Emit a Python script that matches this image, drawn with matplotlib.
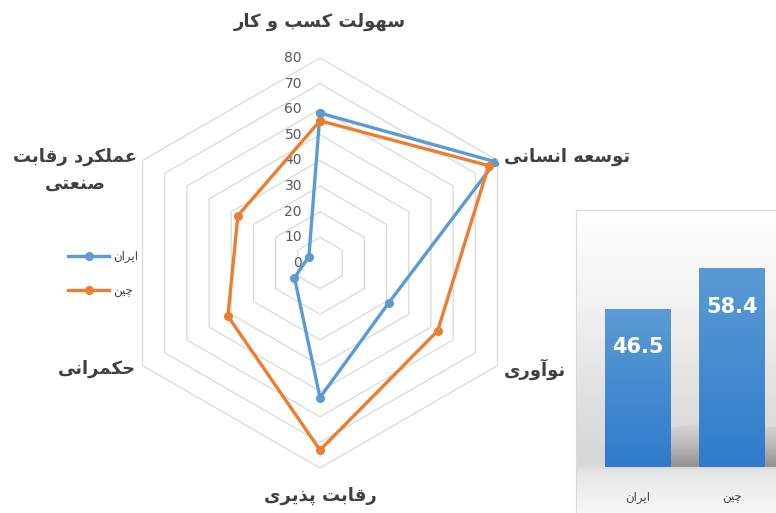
import numpy as np
import matplotlib
matplotlib.use("Agg")
import matplotlib.pyplot as plt
from matplotlib.colors import LinearSegmentedColormap
from matplotlib.lines import Line2D
from matplotlib.patches import Polygon

# ---- data -------------------------------------------------------------
axis_labels = ["سهولت کسب و کار", "توسعه انسانی", "نوآوری",
               "رقابت پذیری", "حکمرانی", "عملکرد رقابت\nصنعتی"]
series_names = ["ایران", "چین"]
iran_values = [58.5, 79, 31, 52.5, 11.5, 5]
china_values = [55.5, 76, 53, 73, 41.5, 37]
radial_ticks = [0, 10, 20, 30, 40, 50, 60, 70, 80]

bar_labels = ["ایران", "چین"]
bar_values = [46.5, 58.4]

BLUE = "#5B9BD5"
ORANGE = "#ED7D31"
GRID = "#D9D9D9"
TEXT = "#404040"

# ---- minimal persian shaping (matplotlib has no text shaping) -----------
FORMS = {
    "ا": ("\uFE8D", "\uFE8E", None, None),
    "آ": ("\uFE81", "\uFE82", None, None),
    "ب": ("\uFE8F", "\uFE90", "\uFE91", "\uFE92"),
    "پ": ("\uFB56", "\uFB57", "\uFB58", "\uFB59"),
    "ت": ("\uFE95", "\uFE96", "\uFE97", "\uFE98"),
    "ح": ("\uFEA1", "\uFEA2", "\uFEA3", "\uFEA4"),
    "چ": ("\uFB7A", "\uFB7B", "\uFB7C", "\uFB7D"),
    "د": ("\uFEA9", "\uFEAA", None, None),
    "ذ": ("\uFEAB", "\uFEAC", None, None),
    "ر": ("\uFEAD", "\uFEAE", None, None),
    "س": ("\uFEB1", "\uFEB2", "\uFEB3", "\uFEB4"),
    "ص": ("\uFEB9", "\uFEBA", "\uFEBB", "\uFEBC"),
    "ع": ("\uFEC9", "\uFECA", "\uFECB", "\uFECC"),
    "ق": ("\uFED5", "\uFED6", "\uFED7", "\uFED8"),
    "ک": ("\uFB8E", "\uFB8F", "\uFB90", "\uFB91"),
    "ل": ("\uFEDD", "\uFEDE", "\uFEDF", "\uFEE0"),
    "م": ("\uFEE1", "\uFEE2", "\uFEE3", "\uFEE4"),
    "ن": ("\uFEE5", "\uFEE6", "\uFEE7", "\uFEE8"),
    "ه": ("\uFEE9", "\uFEEA", "\uFEEB", "\uFEEC"),
    "و": ("\uFEED", "\uFEEE", None, None),
    "ی": ("\uFBFC", "\uFBFD", "\uFBFE", "\uFBFF"),
}


def fa(text):
    lines = []
    for line in text.split("\n"):
        out = []
        for i, c in enumerate(line):
            if c not in FORMS:
                out.append(c)
                continue
            prev = line[i - 1] if i > 0 else None
            nxt = line[i + 1] if i + 1 < len(line) else None
            jp = prev in FORMS and FORMS[prev][2] is not None
            jn = nxt in FORMS and FORMS[c][2] is not None
            iso, fin, ini, med = FORMS[c]
            if jp and jn:
                out.append(med)
            elif jp:
                out.append(fin)
            elif jn:
                out.append(ini)
            else:
                out.append(iso)
        lines.append("".join(reversed(out)))
    return "\n".join(lines)


plt.rcParams["font.family"] = ["DejaVu Sans"]

fig = plt.figure(figsize=(7.76, 5.13), dpi=100)

# ---- radar ----------------------------------------------------------------
ax = fig.add_axes([115 / 776, 45 / 513, 410 / 776, 410 / 513], projection="polar")
ax.set_zorder(2)
ax.set_theta_offset(np.pi / 2)
ax.set_theta_direction(-1)
ax.set_ylim(0, 80)
ax.set_xticks([])
ax.set_yticks([])
ax.grid(False)
ax.spines["polar"].set_visible(False)
ax.patch.set_alpha(0)

n = len(axis_labels)
angles = np.linspace(0, 2 * np.pi, n, endpoint=False)
closed = np.append(angles, angles[0])

for lvl in radial_ticks[1:]:
    ax.plot(closed, [lvl] * (n + 1), color=GRID, lw=0.9, zorder=1)

for v in radial_ticks:
    ax.annotate(str(v), xy=(0, v), xytext=(-13, 0), textcoords="offset points",
                ha="right", va="center", fontsize=10, color="#595959")

for vals, color in [(iran_values, BLUE), (china_values, ORANGE)]:
    ax.plot(closed, vals + vals[:1], color=color, lw=2.4, marker="o",
            markersize=5.5, zorder=3)

# axis labels
lbl = dict(fontsize=13, fontweight="bold", color=TEXT)
ax.text(angles[0], 94, fa(axis_labels[0]), ha="center", va="center", **lbl)
ax.text(angles[1], 83, fa(axis_labels[1]), ha="left", va="center", **lbl)
ax.text(angles[2], 83, fa(axis_labels[2]), ha="left", va="center", **lbl)
ax.text(angles[3], 91, fa(axis_labels[3]), ha="center", va="center", **lbl)
ax.text(angles[4], 83, fa(axis_labels[4]), ha="right", va="center", **lbl)
fig.text(75 / 776, 1 - 170 / 513, fa(axis_labels[5]), ha="center", va="center",
         multialignment="center", linespacing=1.6, **lbl)

handles = [Line2D([], [], color=c, lw=2.4, marker="o", markersize=5.5)
           for c in (BLUE, ORANGE)]
fig.legend(handles, [fa(s) for s in series_names], loc="center left",
           bbox_to_anchor=(68 / 776, 1 - 274 / 513), frameon=False, fontsize=8.5,
           labelspacing=1.8, handlelength=3.5, handletextpad=0.3,
           borderpad=0, borderaxespad=0, labelcolor="#404040")

# ---- bar inset ------------------------------------------------------------
ax2 = fig.add_axes([576 / 776, 0, 200 / 776, 303 / 513])
ax2.set_xlim(-0.66, 1.47)
ax2.set_ylim(-13.5, 75.6)
ax2.set_xticks([])
ax2.set_yticks([])
for side in ("bottom", "right"):
    ax2.spines[side].set_visible(False)
for side in ("left", "top"):
    ax2.spines[side].set_color("#D9D9D9")

# background: white at top, grey band just above the floor, light floor
bg = LinearSegmentedColormap.from_list(
    "bg", [(0, "#FFFFFF"), (0.3, "#F3F3F3"), (0.62, "#E0E0E0"), (0.84, "#D6D6D6"),
           (0.87, "#E8E8E8"), (1, "#F7F7F7")])
ax2.imshow(np.linspace(0, 1, 256).reshape(-1, 1), cmap=bg, aspect="auto",
           extent=(-0.66, 1.47, -13.5, 75.6), origin="upper", zorder=0)

x = np.arange(len(bar_values))
bars = ax2.bar(x, bar_values, width=0.7, color=BLUE, zorder=3)

# soft shadows to the right of the bars
shadow = LinearSegmentedColormap.from_list("sh", ["#8A8A8A", "#B8B8B8", "#D8D8D8"])
for b in bars:
    x1 = b.get_x() + b.get_width()
    sh = Polygon([(x1, 0), (x1 + 0.32, 0), (x1 + 0.32, 13), (x1, 11.5)],
                 closed=True, facecolor="none", edgecolor="none")
    ax2.add_patch(sh)
    im = ax2.imshow(np.linspace(0, 1, 64).reshape(-1, 1), cmap=shadow,
                    aspect="auto", extent=(x1, x1 + 0.32, 0, 13),
                    origin="lower", zorder=2, alpha=0.9)
    im.set_clip_path(sh)

bar_grad = LinearSegmentedColormap.from_list("bar", ["#2F7BCB", "#5B9BD5"])
for b in bars:
    im = ax2.imshow(np.linspace(0, 1, 128).reshape(-1, 1), cmap=bar_grad,
                    aspect="auto", origin="lower", zorder=4,
                    extent=(b.get_x(), b.get_x() + b.get_width(), 0, b.get_height()))
    im.set_clip_path(b)

for xi, v, name in zip(x, bar_values, bar_labels):
    ax2.text(xi, v - 11.2, f"{v}", ha="center", va="center", color="white",
             fontsize=15, fontweight="bold", zorder=5)
    ax2.text(xi, -8.8, fa(name), ha="center", va="center", color="#404040",
             fontsize=8.5, zorder=5)

fig.savefig("out.png", dpi=100)
